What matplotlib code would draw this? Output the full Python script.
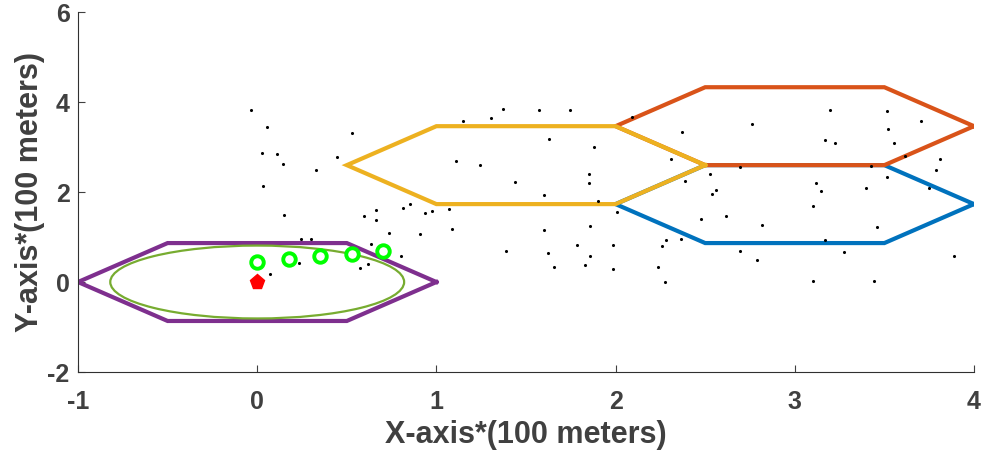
import numpy as np
import matplotlib
matplotlib.use("Agg")
import matplotlib.pyplot as plt
from matplotlib.patches import Ellipse

# hexagonal cells: centre x, centre y, colour (MATLAB default order)
CELL_X = [3.0, 3.0, 1.5, 0.0]
CELL_Y = [1.732, 3.464, 2.598, 0.0]
CELL_COLORS = ["#0072BD", "#D95319", "#EDB120", "#7E2F8E"]
CELL_R = 1.0

# coverage ellipse around the base station
ELL_X, ELL_Y, ELL_W, ELL_H = 0.0, 0.0, 1.64, 1.62

# base station and relay positions
BS_X, BS_Y = [0.0], [0.0]
RELAY_X = [0.0, 0.18, 0.35, 0.53, 0.70]
RELAY_Y = [0.45, 0.51, 0.58, 0.63, 0.69]

# scattered users
USER_X = [-0.035, 0.054, 0.026, 0.113, 0.143, 0.33, 0.035, 0.147, 0.246, 0.30,
          0.236, 0.073, 0.448, 0.528, 0.595, 0.664, 0.664, 0.813, 0.852, 0.934,
          0.733, 0.91, 0.634, 0.805, 0.616, 0.571, 1.146, 1.304, 1.371, 1.572,
          1.743, 1.631, 1.877, 1.109, 1.243, 1.440, 1.854, 1.854, 1.598, 1.90,
          2.007, 0.978, 1.07, 1.088, 1.602, 1.858, 1.784, 1.985, 1.391, 1.622,
          1.860, 1.656, 1.829, 1.987, 2.091, 2.370, 2.759, 2.310, 2.692, 2.528,
          2.390, 2.563, 2.537, 2.615, 2.478, 2.818, 2.279, 2.366, 2.258, 2.693,
          2.788, 2.236, 2.275, 3.196, 3.516, 3.704, 3.521, 3.170, 3.224, 3.551,
          3.613, 3.811, 3.425, 3.787, 3.516, 3.119, 3.144, 3.400, 3.748, 3.099,
          3.460, 3.170, 3.276, 3.891, 3.101, 3.443]
USER_Y = [3.82, 3.44, 2.87, 2.84, 2.62, 2.50, 2.14, 1.49, 0.95, 0.95,
          0.43, 0.18, 2.79, 3.32, 1.46, 1.61, 1.37, 1.64, 1.73, 1.53,
          1.10, 1.06, 0.85, 0.58, 0.41, 0.32, 3.59, 3.65, 3.84, 3.82,
          3.82, 3.19, 3.01, 2.70, 2.61, 2.23, 2.39, 2.21, 1.93, 1.80,
          1.56, 1.58, 1.62, 1.17, 1.15, 1.25, 0.82, 0.82, 0.69, 0.64,
          0.57, 0.34, 0.38, 0.28, 3.66, 3.33, 3.51, 2.73, 2.56, 2.40,
          2.24, 2.05, 1.96, 1.47, 1.41, 1.27, 0.94, 0.96, 0.80, 0.68,
          0.49, 0.33, -0.01, 3.82, 3.81, 3.57, 3.41, 3.16, 3.10, 3.08,
          2.81, 2.74, 2.57, 2.49, 2.33, 2.20, 2.02, 2.10, 2.08, 1.70,
          1.23, 0.93, 0.67, 0.58, 0.02, 0.02]

TXT = "#404040"
plt.rcParams["font.family"] = ["Liberation Sans", "DejaVu Sans"]
plt.rcParams["font.weight"] = "bold"
plt.rcParams["axes.unicode_minus"] = False

fig = plt.figure(figsize=(9.85, 4.65), dpi=100)
ax = fig.add_axes([0.0792, 0.2, 0.9096, 0.774])

ang = np.deg2rad(np.arange(0, 361, 60))
for cx, cy, c in zip(CELL_X, CELL_Y, CELL_COLORS):
    ax.plot(cx + CELL_R * np.cos(ang), cy + CELL_R * np.sin(ang), color=c,
            lw=3.0, solid_joinstyle="miter", zorder=2)

ax.add_patch(Ellipse((ELL_X, ELL_Y), ELL_W, ELL_H, fill=False,
                     edgecolor="#77AC30", lw=1.6, zorder=3))

ax.scatter(USER_X, USER_Y, s=5, color="black", zorder=4, linewidths=0)
ax.plot(RELAY_X, RELAY_Y, ls="none", marker="o", ms=9, mfc="white",
        mec="#00FF00", mew=2.8, zorder=5)
ax.plot(BS_X, BS_Y, ls="none", marker="p", ms=11, color="#FF0000", zorder=5)

ax.set_xlim(-1, 4)
ax.set_ylim(-2, 6)
ax.set_xticks(range(-1, 5))
ax.set_yticks([-2, 0, 2, 4, 6])
for s in ["top", "right"]:
    ax.spines[s].set_visible(False)
for s in ["left", "bottom"]:
    ax.spines[s].set_color("#303030")
    ax.spines[s].set_linewidth(0.8)
ax.tick_params(direction="in", length=5, width=0.8, colors=TXT, labelsize=18)
ax.tick_params(axis="x", pad=13)
ax.tick_params(axis="y", pad=6)
for lab in ax.get_xticklabels() + ax.get_yticklabels():
    lab.set_fontweight("bold")
ax.set_xlabel("X-axis*(100 meters)", fontsize=22, fontweight="bold",
              color=TXT, labelpad=4)
ax.set_ylabel("Y-axis*(100 meters)", fontsize=22, fontweight="bold",
              color=TXT, labelpad=2)

fig.savefig("out.png", dpi=100)
